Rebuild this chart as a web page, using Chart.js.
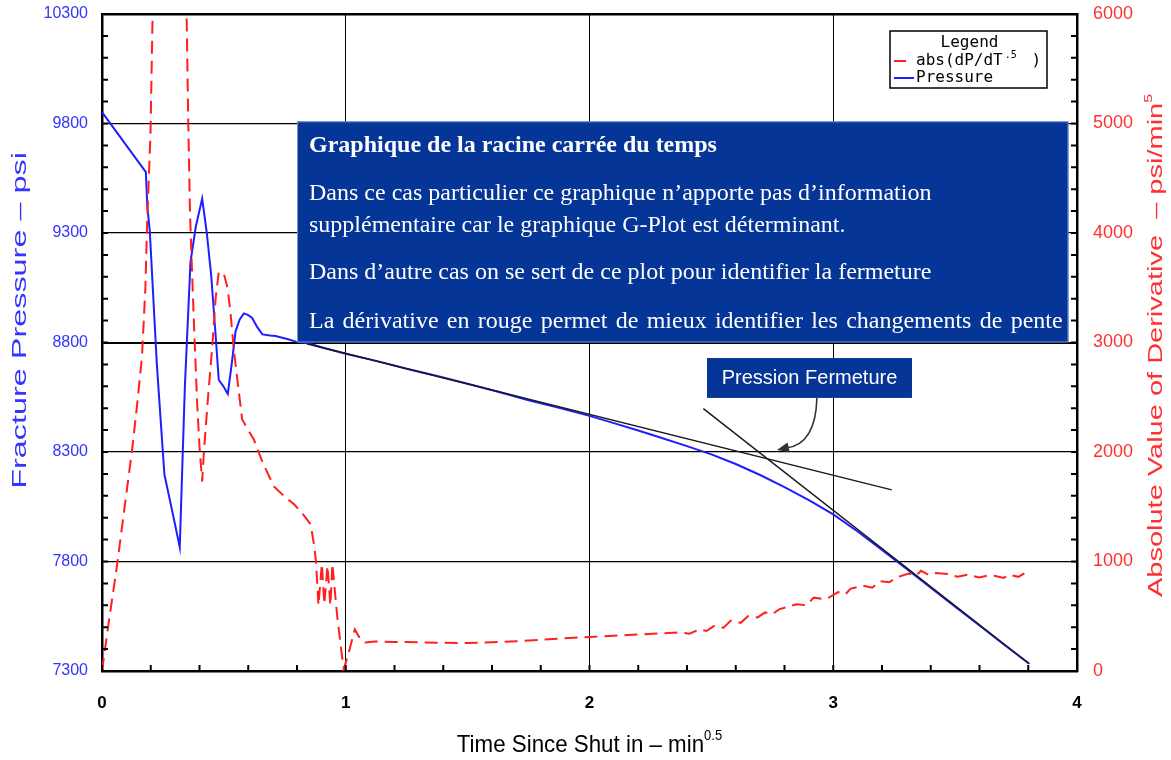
<!DOCTYPE html>
<html lang="fr">
<head>
<meta charset="utf-8">
<title>Graphique de la racine carrée du temps</title>
<script src="https://cdn.jsdelivr.net/npm/chart.js@4.4.1/dist/chart.umd.min.js"></script>
<style>
  html, body { margin: 0; padding: 0; background: #fff; }
  #frame { width: 1171px; height: 760px; position: relative; }
  canvas { display: block; }
</style>
</head>
<body>
<div id="frame"><canvas id="plot" width="1171" height="760"></canvas></div>
<script>
// ---- Shut-in pressure vs. square root of time (min^0.5, psi) ----
const pressureTime = [0.000, 0.090, 0.180, 0.186, 0.196, 0.225, 0.256, 0.290, 0.319, 0.340, 0.363, 0.385,
  0.411, 0.430, 0.448, 0.465, 0.479, 0.498, 0.516, 0.532, 0.548, 0.565, 0.582, 0.600, 0.616, 0.637,
  0.658, 0.690, 0.712, 0.740, 0.760, 0.795, 0.850, 0.900, 1.000, 1.125, 1.250, 1.375, 1.500, 1.625,
  1.750, 1.875, 2.000, 2.100, 2.200, 2.300, 2.400, 2.500, 2.600, 2.700, 2.800, 2.900, 3.000,
  3.100, 3.200, 3.300, 3.400, 3.500, 3.600, 3.700, 3.804];
const pressurePsi = [9852, 9715, 9578, 9420, 9310, 8700, 8198, 8020, 7865, 8600, 9167, 9330,
  9457, 9300, 9106, 8850, 8630, 8600, 8565, 8700, 8851, 8905, 8933, 8925, 8912, 8870,
  8837, 8832, 8830, 8822, 8816, 8804, 8795, 8778, 8749, 8716, 8680, 8647, 8612, 8575,
  8536, 8502, 8465, 8432, 8398, 8363, 8327, 8289, 8245, 8195, 8140, 8080, 8015,
  7937, 7853, 7767, 7680, 7594, 7508, 7421, 7333];

// ---- Absolute value of the derivative dP/dT^0.5 (psi/min^0.5) ----
const derivTime = [0.000, 0.030, 0.062, 0.090, 0.123, 0.145, 0.164, 0.178, 0.185, 0.199, 0.210, 0.240,
  0.270, 0.300, 0.330, 0.347, 0.354, 0.361, 0.375, 0.390, 0.400, 0.411, 0.418, 0.435, 0.452, 0.466,
  0.479, 0.500, 0.515, 0.527, 0.540, 0.555, 0.575, 0.600, 0.623, 0.660, 0.705, 0.745, 0.788, 0.825,
  0.856, 0.870, 0.878, 0.888, 0.902, 0.912, 0.925, 0.937, 0.945, 0.965, 0.985, 0.992, 1.010, 1.037,
  1.060, 1.080, 1.120, 1.200, 1.300, 1.400, 1.500, 1.600, 1.700, 1.800, 1.900, 2.000, 2.100, 2.200,
  2.300, 2.370, 2.410, 2.450, 2.480, 2.510, 2.550, 2.580, 2.620, 2.650, 2.690, 2.720, 2.750, 2.780,
  2.820, 2.850, 2.890, 2.920, 2.970, 3.020, 3.050, 3.070, 3.120, 3.160, 3.190, 3.230, 3.260, 3.310,
  3.340, 3.360, 3.390, 3.420, 3.470, 3.510, 3.550, 3.600, 3.630, 3.660, 3.700, 3.720, 3.760, 3.790];
const derivValue = [0, 480, 970, 1450, 2010, 2450, 2870, 3500, 4090, 4910, 6300, 9500,
  11000, 10000, 7500, 6000, 5000, 4180, 3300, 2460, 2050, 1730, 2000, 2500, 2950, 3400,
  3645, 3625, 3500, 3278, 2950, 2666, 2298, 2200, 2114, 1900, 1686, 1600, 1523, 1430,
  1339, 1150, 1000, 600, 980, 610, 960, 600, 980, 500, 130, 20, 150, 380,
  290, 260, 270, 265, 262, 258, 255, 262, 272, 285, 300, 310, 322, 333,
  345, 352, 340, 380, 365, 410, 395, 460, 440, 500, 490, 535, 520, 565,
  590, 610, 600, 670, 655, 720, 700, 750, 780, 760, 820, 810, 855, 890,
  870, 915, 880, 895, 885, 860, 880, 855, 870, 870, 850, 880, 860, 900];

// ---- Straight-line fits whose crossing marks closure ----
const earlyFitTime = [0.84, 3.24];
const earlyFitPsi = [8794, 8127];
const lateFitTime = [2.467, 3.804];
const lateFitPsi = [8498, 7333];

// ---- Axis tick labels ----
const timeTicks = [0, 1, 2, 3, 4];
const pressureTicks = [7300, 7800, 8300, 8800, 9300, 9800, 10300];
const derivTicks = [0, 1000, 2000, 3000, 4000, 5000, 6000];

// ---- Text ----
const noteTitle = 'Graphique de la racine carrée du temps';
const noteLines = [
  'Dans ce cas particulier ce graphique n\u2019apporte pas d\u2019information',
  'supplémentaire car le graphique G-Plot est déterminant.',
  'Dans d\u2019autre cas on se sert de ce plot pour identifier la fermeture',
  'La dérivative en rouge permet de mieux identifier les changements de pente'
];
const closureLabel = 'Pression Fermeture';

const SANS = "'Liberation Sans', Arial, sans-serif";
const NARROW = "'Liberation Sans Narrow', 'Liberation Sans', Arial, sans-serif";
const SERIF = "'Liberation Serif', 'Times New Roman', serif";
const MONO = "'DejaVu Sans Mono', 'Liberation Mono', monospace";
const BLUE_TXT = '#3434ff';
const RED_TXT = '#ff3030';
const BOX_BLUE = '#043597';

const pts = (xs, ys) => xs.map((x, i) => ({ x, y: ys[i] }));

// Note panel and closure callout, placed in data units
const notePanel = { t0: 0.80, t1: 3.965, pTop: 9810, pBottom: 8800 };
const callout = { t0: 2.482, t1: 3.323, pTop: 8729, pBottom: 8547, tailT: 2.933, tipT: 2.769, tipP: 8309 };

// Draws a run of text pieces (normal + raised) centred on the origin
function richText(ctx, parts, family, color) {
  let w = 0;
  const widths = parts.map(p => { ctx.font = `${p.weight || ''} ${p.size}px ${family}`; const m = ctx.measureText(p.text).width; w += m; return m; });
  let x = -w / 2;
  ctx.fillStyle = color;
  ctx.textBaseline = 'middle';
  ctx.textAlign = 'left';
  parts.forEach((p, i) => {
    ctx.font = `${p.weight || ''} ${p.size}px ${family}`;
    ctx.fillText(p.text, x, -(p.rise || 0));
    x += widths[i];
  });
}

// Writes a line word by word with some extra room between words
function spacedLine(ctx, text, x, y, extra) {
  const space = ctx.measureText(' ').width;
  text.split(' ').forEach(word => {
    ctx.fillText(word, x, y);
    x += ctx.measureText(word).width + space + extra;
  });
}

const axisTitles = {
  id: 'axisTitles',
  afterDraw(chart) {
    const { ctx, chartArea: a } = chart;
    const midY = (a.top + a.bottom) / 2;
    ctx.save();
    ctx.translate(20, midY - 22);
    ctx.rotate(-Math.PI / 2);
    ctx.scale(1.62, 1);
    richText(ctx, [{ text: 'Fracture Pressure \u2013 psi', size: 20 }], SANS, BLUE_TXT);
    ctx.restore();

    ctx.save();
    ctx.translate(a.right + 79, midY + 3);
    ctx.rotate(-Math.PI / 2);
    ctx.scale(1.45, 1);
    richText(ctx, [{ text: 'Absolute Value of Derivative  \u2013 psi/min', size: 20 }, { text: '5', size: 11, rise: 7 }], SANS, RED_TXT);
    ctx.restore();

    ctx.save();
    ctx.translate((a.left + a.right) / 2, a.bottom + 74);
    ctx.scale(0.93, 1);
    richText(ctx, [{ text: 'Time Since Shut in \u2013 min', size: 24 }, { text: '0.5', size: 14, rise: 9 }], SANS, '#000');
    ctx.restore();
  }
};

const overlays = {
  id: 'overlays',
  afterDatasetsDraw(chart) {
    const { ctx, chartArea: a, scales } = chart;
    const X = t => scales.x.getPixelForValue(t);
    const Y = p => scales.yP.getPixelForValue(p);

    // inward minor tick marks
    ctx.save();
    ctx.strokeStyle = '#000';
    ctx.lineWidth = 2;
    ctx.beginPath();
    for (let k = 0; k <= 30; k++) { const y = Y(7300 + 100 * k); ctx.moveTo(a.left, y); ctx.lineTo(a.left + 6, y); }
    for (let k = 0; k <= 30; k++) { const y = scales.yD.getPixelForValue(200 * k); ctx.moveTo(a.right, y); ctx.lineTo(a.right - 6, y); }
    for (let k = 0; k <= 20; k++) { const x = X(0.2 * k); ctx.moveTo(x, a.bottom); ctx.lineTo(x, a.bottom - 6); }
    ctx.stroke();
    ctx.restore();

    // explanatory panel
    const L = X(notePanel.t0), R = X(notePanel.t1), T = Y(notePanel.pTop), B = Y(notePanel.pBottom);
    ctx.save();
    ctx.fillStyle = BOX_BLUE;
    ctx.fillRect(L, T, R - L, B - T);
    ctx.strokeStyle = 'rgba(150,175,225,0.8)';
    ctx.lineWidth = 1;
    ctx.strokeRect(L + 0.5, T + 0.5, R - L - 1, B - T - 1);
    ctx.fillStyle = '#fff';
    ctx.textAlign = 'left';
    ctx.textBaseline = 'alphabetic';
    ctx.font = `bold 24px ${SERIF}`;
    ctx.fillText(noteTitle, L + 12, T + 31);
    ctx.font = `24px ${SERIF}`;
    const offs = [79, 111, 158, 207];
    noteLines.forEach((s, i) => {
      if (i === noteLines.length - 1) spacedLine(ctx, s, L + 12, T + offs[i], 2.3);
      else ctx.fillText(s, L + 12, T + offs[i]);
    });
    ctx.restore();

    // closure callout with curved arrow
    const cL = X(callout.t0), cR = X(callout.t1), cT = Y(callout.pTop), cB = Y(callout.pBottom);
    ctx.save();
    ctx.fillStyle = BOX_BLUE;
    ctx.fillRect(cL, cT, cR - cL, cB - cT);
    ctx.fillStyle = '#fff';
    ctx.font = `20px ${SANS}`;
    ctx.textAlign = 'center';
    ctx.textBaseline = 'middle';
    ctx.fillText(closureLabel, (cL + cR) / 2, (cT + cB) / 2 + 1);
    const sx = X(callout.tailT), sy = cB, tx = X(callout.tipT), ty = Y(callout.tipP);
    ctx.strokeStyle = '#333';
    ctx.fillStyle = '#333';
    ctx.lineWidth = 1.6;
    ctx.beginPath();
    ctx.moveTo(sx, sy);
    ctx.bezierCurveTo(sx - 1, sy + 36, sx - 14, ty - 4, tx + 9, ty - 2);
    ctx.stroke();
    const ang = Math.atan2(2, -9);
    ctx.beginPath();
    ctx.moveTo(tx, ty);
    ctx.lineTo(tx - 12 * Math.cos(ang) + 5 * Math.sin(ang), ty - 12 * Math.sin(ang) - 5 * Math.cos(ang));
    ctx.lineTo(tx - 12 * Math.cos(ang) - 5 * Math.sin(ang), ty - 12 * Math.sin(ang) + 5 * Math.cos(ang));
    ctx.closePath();
    ctx.fill();
    ctx.restore();

    // legend
    const lgL = a.right - 187, lgT = a.top + 17, lgW = 157, lgH = 57;
    ctx.save();
    ctx.fillStyle = '#fff';
    ctx.fillRect(lgL, lgT, lgW, lgH);
    ctx.strokeStyle = '#000';
    ctx.lineWidth = 1.5;
    ctx.strokeRect(lgL, lgT, lgW, lgH);
    ctx.font = `16px ${MONO}`;
    const cell = ctx.measureText('M').width;
    ctx.fillStyle = '#000';
    ctx.textBaseline = 'middle';
    ctx.textAlign = 'center';
    ctx.fillText('Legend', lgL + lgW / 2 + 1, lgT + 12);
    ctx.textAlign = 'left';
    const dsD = chart.data.datasets[1], dsP = chart.data.datasets[2];
    const tx0 = lgL + 26;
    ctx.strokeStyle = dsD.borderColor; ctx.lineWidth = 2;
    ctx.beginPath(); ctx.moveTo(lgL + 4, lgT + 30); ctx.lineTo(lgL + 16, lgT + 30); ctx.stroke();
    ctx.fillText('abs(dP/dT', tx0, lgT + 30);
    ctx.font = `10px ${MONO}`;
    ctx.fillText('.5', tx0 + 9 * cell + 2, lgT + 24);
    ctx.font = `16px ${MONO}`;
    ctx.fillText(')', tx0 + 12 * cell, lgT + 30);
    ctx.strokeStyle = dsP.borderColor;
    ctx.beginPath(); ctx.moveTo(lgL + 4, lgT + 47); ctx.lineTo(lgL + 24, lgT + 47); ctx.stroke();
    ctx.fillText('Pressure', tx0, lgT + 47);
    ctx.restore();
  }
};

// keeps the plot frame fixed: no extra room claimed by end labels
const noEdgePadding = s => { s.paddingTop = 0; s.paddingBottom = 0; s.paddingLeft = 0; s.paddingRight = 0; };

new Chart(document.getElementById('plot'), {
  type: 'line',
  data: {
    datasets: [
      { data: pts(earlyFitTime, earlyFitPsi), yAxisID: 'yP', borderColor: '#1a1a1a', borderWidth: 1.5, pointRadius: 0, order: 0 },
      { label: 'abs(dP/dT.5 )', data: pts(derivTime, derivValue), yAxisID: 'yD', borderColor: '#ff1f1f', borderWidth: 2, borderDash: [13, 7], pointRadius: 0, order: 1 },
      { label: 'Pressure', data: pts(pressureTime, pressurePsi), yAxisID: 'yP', borderColor: '#1e1eff', borderWidth: 2, pointRadius: 0, order: 2 },
      { data: pts(lateFitTime, lateFitPsi), yAxisID: 'yP', borderColor: '#1a1a1a', borderWidth: 1.5, pointRadius: 0, order: 0 }
    ]
  },
  options: {
    responsive: false,
    animation: false,
    devicePixelRatio: 1,
    layout: { padding: { top: 14, left: 0, right: 0, bottom: 0 } },
    elements: { line: { tension: 0 } },
    plugins: { legend: { display: false }, tooltip: { enabled: false } },
    scales: {
      x: {
        type: 'linear', min: 0, max: 4,
        afterBuildTicks: s => { s.ticks = timeTicks.map(v => ({ value: v })); },
        afterFit: s => { s.height = 89; noEdgePadding(s); },
        ticks: { color: '#000', font: { family: NARROW, size: 17, weight: 'bold' }, padding: 22, maxRotation: 0, callback: v => String(v) },
        grid: { color: '#000', lineWidth: 1, drawTicks: false },
        border: { color: '#000', width: 2.5 }
      },
      yP: {
        position: 'left', min: 7300, max: 10300,
        afterBuildTicks: s => { s.ticks = pressureTicks.map(v => ({ value: v })); },
        afterFit: s => { s.width = 102; noEdgePadding(s); },
        ticks: { color: BLUE_TXT, font: { family: SANS, size: 16 }, padding: 14, callback: v => String(v) },
        grid: {
          color: '#000', drawTicks: false,
          lineWidth: c => (c.tick && c.tick.value === 10300 ? 2.5 : (c.tick && c.tick.value === 8800 ? 2 : 1.2))
        },
        border: { color: '#000', width: 2.5 }
      },
      yD: {
        position: 'right', min: 0, max: 6000,
        afterBuildTicks: s => { s.ticks = derivTicks.map(v => ({ value: v })); },
        afterFit: s => { s.width = 94; noEdgePadding(s); },
        ticks: { color: RED_TXT, font: { family: SANS, size: 18 }, padding: 16, callback: v => String(v) },
        grid: { drawOnChartArea: false, drawTicks: false },
        border: { color: '#000', width: 2.5 }
      }
    }
  },
  plugins: [overlays, axisTitles]
});
</script>
</body>
</html>
